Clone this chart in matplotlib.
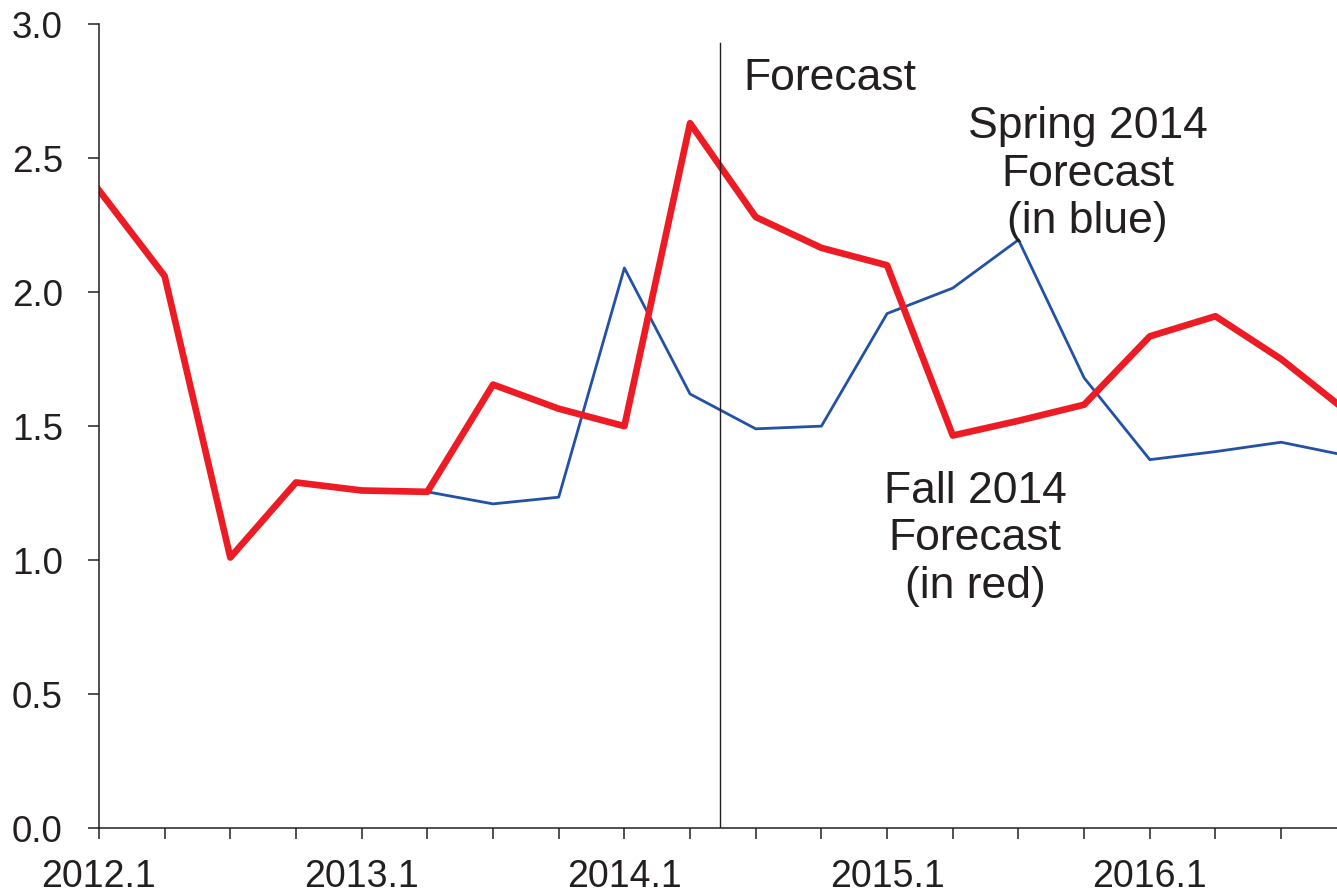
import numpy as np
import matplotlib
matplotlib.use('Agg')
import matplotlib.pyplot as plt

# Quarters 2012.1 .. 2016.4
QUARTERS = ['2012.1', '2012.2', '2012.3', '2012.4',
            '2013.1', '2013.2', '2013.3', '2013.4',
            '2014.1', '2014.2', '2014.3', '2014.4',
            '2015.1', '2015.2', '2015.3', '2015.4',
            '2016.1', '2016.2', '2016.3', '2016.4']

# Fall 2014 forecast (red)
fall_2014 = [2.38, 2.06, 1.01, 1.29, 1.26, 1.255, 1.655, 1.565,
             1.50, 2.63, 2.28, 2.165, 2.10, 1.465, 1.52, 1.58,
             1.835, 1.91, 1.75, 1.555]

# Spring 2014 forecast (blue), starts where it splits from the red line
spring_2014 = [np.nan, np.nan, np.nan, np.nan, np.nan, 1.255, 1.21, 1.235,
               2.09, 1.62, 1.49, 1.50, 1.92, 2.015, 2.195, 1.68,
               1.375, 1.405, 1.44, 1.39]

FORECAST_START = 9.45      # between 2014.2 and 2014.3

RED = '#ED1C24'
BLUE = '#2251A6'
INK = '#231F20'

plt.rcParams['font.family'] = ['Liberation Sans', 'DejaVu Sans']

fig = plt.figure(figsize=(13.37, 8.93), dpi=100)
ax = fig.add_axes([0.074, 0.0725, 0.926, 0.9006])

x = np.arange(len(QUARTERS))

ax.plot(x, spring_2014, color=BLUE, linewidth=2.0)
ax.plot(x, fall_2014, color=RED, linewidth=4.8)

# Forecast divider
ax.plot([FORECAST_START, FORECAST_START], [0, 2.93], color=INK, linewidth=1.0)

ax.text(FORECAST_START + 0.36, 2.754, 'Forecast', fontsize=32, color=INK,
        ha='left', va='baseline')
ax.text(15.05, 2.44, 'Spring 2014\nForecast\n(in blue)', fontsize=32,
        color=INK, ha='center', va='center', linespacing=1.2)
ax.text(13.34, 1.08, 'Fall 2014\nForecast\n(in red)', fontsize=32,
        color=INK, ha='center', va='center', linespacing=1.2)

# Axes (ticks first, then limits, so the last quarter stays cut off)
ax.set_xticks(x)
ax.set_xticklabels([q if q.endswith('.1') else '' for q in QUARTERS])
ax.set_yticks(np.arange(0, 3.01, 0.5))
ax.set_yticklabels(['%.1f' % v for v in np.arange(0, 3.01, 0.5)])
ax.set_xlim(0, 18.85)
ax.set_ylim(0, 3.0)

for side in ['top', 'right']:
    ax.spines[side].set_visible(False)
for side in ['left', 'bottom']:
    ax.spines[side].set_color(INK)
    ax.spines[side].set_linewidth(1.1)

ax.tick_params(axis='both', direction='out', length=8, width=1.1,
               colors=INK, labelsize=27)
ax.tick_params(axis='x', pad=14)
ax.tick_params(axis='y', labelsize=26.5, pad=18)

fig.savefig('out.png', dpi=100)
